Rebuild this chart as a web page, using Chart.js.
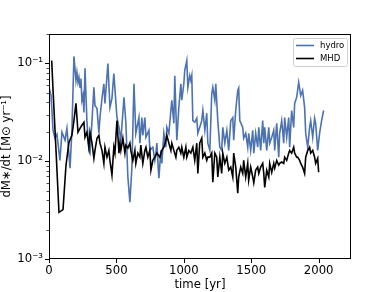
<!DOCTYPE html>
<html>
<head>
<meta charset="utf-8">
<script src="https://cdn.jsdelivr.net/npm/chart.js@4.4.0/dist/chart.umd.min.js"></script>
<style>
  html, body { margin: 0; padding: 0; background: #fff; }
  #wrap { width: 390px; height: 292px; }
</style>
</head>
<body>
<div id="wrap"><canvas id="chart" width="390" height="292"></canvas></div>
<script>
// accretion rate vs time
const hydroT = [0, 15, 30, 44, 59, 81, 96, 119, 133, 156,
  170, 185, 200, 207, 215, 222, 230, 237, 244, 252,
  259, 267, 281, 296, 304, 319, 333, 341, 356, 370,
  378, 393, 407, 415, 437, 452, 467, 481, 504, 519,
  533, 556, 570, 585, 600, 615, 630, 644, 667, 674,
  689, 696, 711, 719, 741, 748, 770, 785, 793, 800,
  815, 830, 837, 852, 867, 874, 889, 904, 911, 926,
  933, 948, 963, 978, 985, 1000, 1007, 1022, 1030, 1044,
  1052, 1059, 1067, 1081, 1096, 1104, 1118, 1133, 1141, 1156,
  1170, 1178, 1193, 1207, 1215, 1230, 1237, 1252, 1267, 1281,
  1289, 1304, 1319, 1333, 1348, 1363, 1370, 1385, 1400, 1407,
  1415, 1437, 1444, 1459, 1474, 1481, 1496, 1511, 1519, 1533,
  1548, 1556, 1570, 1585, 1593, 1600, 1615, 1630, 1637, 1652,
  1667, 1674, 1689, 1704, 1711, 1726, 1741, 1748, 1763, 1778,
  1785, 1800, 1815, 1822, 1837, 1852, 1867, 1881, 1896, 1904,
  1919, 1933, 1941, 1956, 1970, 1978, 1993, 2007, 2022, 2037];
const hydroV = [0.058, 0.047, 0.0207, 0.0172, 0.0189, 0.0102, 0.0198, 0.0164, 0.0217, 0.0085,
  0.0207, 0.118, 0.067, 0.081, 0.064, 0.072, 0.057, 0.070, 0.042, 0.047,
  0.0316, 0.089, 0.026, 0.0129, 0.0121, 0.026, 0.057, 0.037, 0.0347, 0.0193,
  0.028, 0.044, 0.062, 0.039, 0.100, 0.0355, 0.044, 0.079, 0.028, 0.0222,
  0.0164, 0.045, 0.025, 0.0069, 0.0038, 0.0087, 0.062, 0.0193, 0.028, 0.0153,
  0.028, 0.0184, 0.028, 0.0176, 0.0207, 0.0129, 0.0139, 0.0102, 0.0121, 0.0153,
  0.0067, 0.0129, 0.0095, 0.0193, 0.0139, 0.0222, 0.0193, 0.033, 0.042, 0.0244,
  0.075, 0.0164, 0.0355, 0.062, 0.042, 0.062, 0.085, 0.107, 0.057, 0.075,
  0.067, 0.075, 0.026, 0.025, 0.0275, 0.0193, 0.0222, 0.026, 0.033, 0.0207,
  0.031, 0.0153, 0.0129, 0.049, 0.057, 0.042, 0.062, 0.026, 0.0139, 0.0129,
  0.0222, 0.0153, 0.0207, 0.0129, 0.026, 0.028, 0.0164, 0.033, 0.053, 0.056,
  0.026, 0.0222, 0.0172, 0.0193, 0.0139, 0.0193, 0.0129, 0.0207, 0.0121, 0.0193,
  0.0139, 0.0222, 0.0129, 0.026, 0.0153, 0.0222, 0.0129, 0.0222, 0.0153, 0.0176,
  0.0207, 0.0129, 0.0244, 0.0110, 0.0193, 0.026, 0.0153, 0.028, 0.0176, 0.028,
  0.0139, 0.033, 0.0222, 0.039, 0.045, 0.064, 0.047, 0.053, 0.0355, 0.0193,
  0.0139, 0.0222, 0.026, 0.0176, 0.0275, 0.0244, 0.0129, 0.0193, 0.026, 0.033];

const mhdT = [20, 30, 52, 74, 104, 126, 148, 170, 185, 200,
  215, 230, 244, 259, 267, 281, 296, 304, 319, 333,
  341, 356, 370, 378, 393, 407, 415, 430, 444, 452,
  467, 481, 489, 504, 519, 526, 533, 548, 563, 570,
  585, 600, 607, 622, 637, 644, 659, 674, 681, 696,
  711, 719, 733, 748, 756, 770, 785, 800, 822, 837,
  852, 867, 874, 889, 904, 911, 926, 941, 948, 963,
  978, 985, 1000, 1015, 1022, 1037, 1052, 1067, 1081, 1096,
  1104, 1118, 1133, 1141, 1156, 1170, 1178, 1193, 1207, 1215,
  1230, 1244, 1252, 1267, 1281, 1289, 1304, 1319, 1333, 1348,
  1363, 1370, 1385, 1400, 1407, 1422, 1437, 1444, 1459, 1474,
  1481, 1496, 1511, 1519, 1533, 1548, 1556, 1570, 1585, 1593,
  1600, 1615, 1630, 1637, 1652, 1667, 1674, 1689, 1704, 1711,
  1726, 1741, 1748, 1763, 1778, 1785, 1800, 1815, 1822, 1837,
  1844, 1859, 1867, 1881, 1896, 1904, 1919, 1933, 1941, 1956,
  1970, 1978, 1993, 2000];
const mhdV = [0.107, 0.053, 0.0129, 0.0030, 0.0032, 0.0091, 0.0156, 0.0184, 0.026, 0.039,
  0.0198, 0.0217, 0.0233, 0.025, 0.0176, 0.0198, 0.0139, 0.0198, 0.0153, 0.0107,
  0.0129, 0.0172, 0.0184, 0.0153, 0.0129, 0.0095, 0.0139, 0.0110, 0.0129, 0.0102,
  0.0072, 0.0139, 0.0121, 0.026, 0.0121, 0.0153, 0.0129, 0.0172, 0.0121, 0.0146,
  0.0136, 0.0153, 0.0129, 0.0102, 0.0129, 0.0095, 0.0121, 0.0110, 0.0146, 0.0095,
  0.0129, 0.0139, 0.0110, 0.0129, 0.0081, 0.0102, 0.0110, 0.0121, 0.0110, 0.0129,
  0.0139, 0.0164, 0.0184, 0.0153, 0.0129, 0.0153, 0.0129, 0.0110, 0.0129, 0.0139,
  0.0121, 0.0139, 0.0110, 0.0139, 0.0110, 0.0129, 0.0121, 0.0139, 0.0102, 0.0153,
  0.0075, 0.0153, 0.0172, 0.0110, 0.0121, 0.0102, 0.0110, 0.0110, 0.0121, 0.0061,
  0.0121, 0.0110, 0.0069, 0.0110, 0.0075, 0.0121, 0.0095, 0.0110, 0.0081, 0.0087,
  0.0069, 0.0121, 0.0087, 0.0047, 0.0069, 0.0087, 0.0075, 0.0102, 0.0069, 0.0095,
  0.0064, 0.0087, 0.0069, 0.0060, 0.0081, 0.0087, 0.0075, 0.0087, 0.0095, 0.0075,
  0.0054, 0.0081, 0.0069, 0.0095, 0.0077, 0.0095, 0.0085, 0.0102, 0.0091, 0.0095,
  0.0098, 0.0095, 0.0110, 0.0102, 0.0121, 0.0129, 0.0121, 0.0139, 0.0121, 0.0110,
  0.0110, 0.0102, 0.0095, 0.0087, 0.0075, 0.0110, 0.0129, 0.0139, 0.0121, 0.0129,
  0.0110, 0.0095, 0.0107, 0.0077];

const X_TICKS = [0, 500, 1000, 1500, 2000];
const Y_TICKS = [0.001, 0.01, 0.1];
const Y_LABELS = ['10⁻³', '10⁻²', '10⁻¹'];
const SERIES = ['hydro', 'MHD'];
const COLORS = ['#4c72b0', '#000000'];

const FONT = 'DejaVu Sans';

// frame, tick marks (major + log minor) and the boxed legend, like matplotlib
const frame = {
  id: 'frame',
  afterDraw(chart) {
    const ctx = chart.ctx, a = chart.chartArea;
    const xs = chart.scales.x, ys = chart.scales.y;
    ctx.save();
    ctx.strokeStyle = '#000';
    ctx.lineWidth = 1;
    ctx.beginPath();
    X_TICKS.forEach(v => {
      const px = Math.round(xs.getPixelForValue(v)) + 0.5;
      ctx.moveTo(px, a.bottom); ctx.lineTo(px, a.bottom + 4);
    });
    Y_TICKS.forEach(v => {
      const py = Math.round(ys.getPixelForValue(v)) + 0.5;
      ctx.moveTo(a.left - 4, py); ctx.lineTo(a.left, py);
    });
    ctx.stroke();
    ctx.lineWidth = 0.7;
    ctx.beginPath();
    Y_TICKS.forEach(d => {
      for (let k = 2; k <= 9; k++) {
        const v = k * d;
        if (v > ys.max) break;
        const py = Math.round(ys.getPixelForValue(v)) + 0.5;
        ctx.moveTo(a.left - 2.5, py); ctx.lineTo(a.left, py);
      }
    });
    ctx.stroke();
    ctx.lineWidth = 1;
    ctx.strokeRect(a.left + 0.5, a.top + 0.5, a.right - a.left - 1, a.bottom - a.top - 1);

    // legend box
    const bx = 293.5, by = 38.5, bw = 54, bh = 28;
    ctx.fillStyle = 'rgba(255,255,255,0.8)';
    ctx.strokeStyle = '#d0d0d0';
    ctx.beginPath();
    ctx.roundRect(bx, by, bw, bh, 2);
    ctx.fill(); ctx.stroke();
    ctx.font = '8.5px "' + FONT + '"';
    ctx.textBaseline = 'middle';
    ctx.textAlign = 'left';
    SERIES.forEach((name, i) => {
      const ly = 45.5 + i * 13;
      ctx.strokeStyle = COLORS[i];
      ctx.lineWidth = 1.6;
      ctx.beginPath(); ctx.moveTo(296, ly); ctx.lineTo(314, ly); ctx.stroke();
      ctx.fillStyle = '#000';
      ctx.fillText(name, 320, ly);
    });
    ctx.restore();
  }
};

new Chart(document.getElementById('chart'), {
  type: 'line',
  data: {
    datasets: [
      { label: SERIES[0], data: hydroT.map((t, i) => ({ x: t, y: hydroV[i] })), borderColor: COLORS[0], order: 1 },
      { label: SERIES[1], data: mhdT.map((t, i) => ({ x: t, y: mhdV[i] })), borderColor: COLORS[1], order: 0 },
    ],
  },
  options: {
    responsive: false,
    animation: false,
    devicePixelRatio: 1,
    layout: { padding: { left: 0, top: 34, right: 39, bottom: 0 } },
    elements: {
      point: { radius: 0 },
      line: { borderWidth: 1.6, tension: 0, fill: false },
    },
    plugins: { legend: { display: false }, tooltip: { enabled: false } },
    scales: {
      x: {
        type: 'linear', min: 0, max: 2240,
        grid: { display: false, drawTicks: false },
        border: { display: false },
        afterBuildTicks: s => { s.ticks = X_TICKS.map(v => ({ value: v })); },
        afterFit: s => { s.height = 33; },
        ticks: {
          color: '#000', font: { family: FONT, size: 11.7 }, padding: 5, maxRotation: 0, autoSkip: false,
          callback: v => String(v),
        },
        title: { display: true, text: 'time [yr]', color: '#000', font: { family: FONT, size: 11.7 }, padding: 0 },
      },
      y: {
        type: 'logarithmic', min: 0.001, max: 0.2,
        grid: { display: false, drawTicks: false },
        border: { display: false },
        afterBuildTicks: s => { s.ticks = Y_TICKS.map(v => ({ value: v })); },
        afterFit: s => { s.width = 49; },
        ticks: {
          color: '#000', font: { family: FONT, size: 11.7 }, padding: 6, autoSkip: false,
          callback: v => Y_LABELS[Y_TICKS.indexOf(v)],
        },
        title: { display: true, text: 'dM∗/dt [M⊙ yr⁻¹]', color: '#000', font: { family: FONT, size: 11.7 }, padding: 0 },
      },
    },
  },
  plugins: [frame],
});
</script>
</body>
</html>
